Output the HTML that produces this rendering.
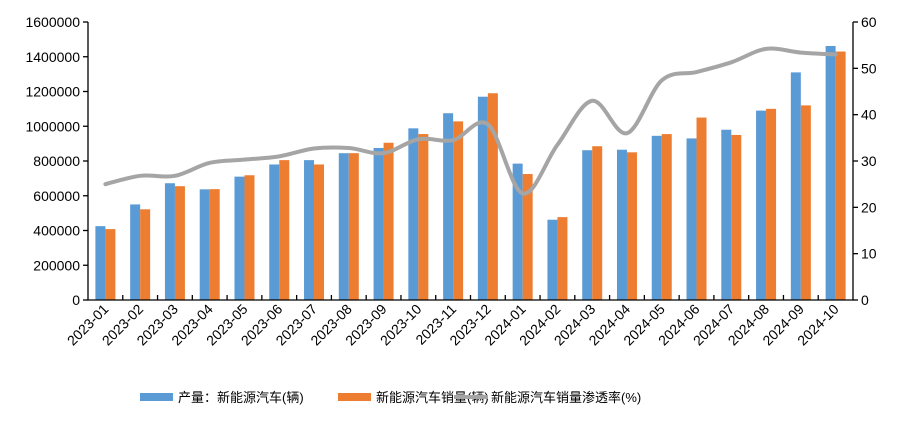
<!DOCTYPE html>
<html><head><meta charset="utf-8"><style>
body{margin:0;background:#fff;width:904px;height:426px;overflow:hidden;font-family:"Liberation Sans","Noto Sans CJK SC",sans-serif;}
svg text{font-family:"Liberation Sans","Noto Sans CJK SC",sans-serif;}
</style></head><body>
<svg id="chart" width="904" height="426" xmlns="http://www.w3.org/2000/svg"></svg>
<script>
const categories=["2023-01","2023-02","2023-03","2023-04","2023-05","2023-06","2023-07","2023-08","2023-09","2023-10","2023-11","2023-12","2024-01","2024-02","2024-03","2024-04","2024-05","2024-06","2024-07","2024-08","2024-09","2024-10"];
const production=[425000,550000,672000,637000,710000,780000,805000,845000,875000,988000,1075000,1170000,785000,462000,862000,865000,945000,930000,980000,1090000,1310000,1462000];
const sales=[408000,522000,655000,638000,718000,805000,780000,845000,905000,955000,1028000,1190000,725000,477000,885000,850000,955000,1050000,950000,1100000,1120000,1430000];
const penetration=[25,26.8,26.8,29.6,30.3,31,32.7,32.8,31.7,34.7,34.5,37.9,23,33.5,43,36,47.4,49.2,51.3,54.2,53.4,53];
const leftTicks=[0,200000,400000,600000,800000,1000000,1200000,1400000,1600000];
const rightTicks=[0,10,20,30,40,50,60];

const svg=document.getElementById('chart');
const NS='http://www.w3.org/2000/svg';
const X0=88,X1=853,Y0=300,Y1=22;
const bw=(X1-X0)/categories.length;
const yL=v=>Y0-(v/1600000)*(Y0-Y1);
const yR=v=>Y0-(v/60)*(Y0-Y1);
const xC=i=>X0+bw*(i+0.5);
function el(t,a){const e=document.createElementNS(NS,t);for(const k in a)e.setAttribute(k,a[k]);svg.appendChild(e);return e;}

// bars
production.forEach((v,i)=>{
  const r=el('rect',{x:xC(i)-10,y:yL(v),width:10,height:Y0-yL(v),fill:'#5b9bd5'});
  
  
});
sales.forEach((v,i)=>{
  const r=el('rect',{x:xC(i),y:yL(v),width:10,height:Y0-yL(v),fill:'#ed7d31'});
  
  
});
// line (catmull-rom)
const pts=penetration.map((v,i)=>[xC(i),yR(v)]);
let d='M'+pts[0][0]+','+pts[0][1];
for(let i=0;i<pts.length-1;i++){
  const p0=pts[i-1]||pts[i],p1=pts[i],p2=pts[i+1],p3=pts[i+2]||p2;
  const c1=[p1[0]+(p2[0]-p0[0])/6,p1[1]+(p2[1]-p0[1])/6];
  const c2=[p2[0]-(p3[0]-p1[0])/6,p2[1]-(p3[1]-p1[1])/6];
  d+=` C${c1[0]},${c1[1]} ${c2[0]},${c2[1]} ${p2[0]},${p2[1]}`;
}
const ln=el('path',{d:d,fill:'none',stroke:'#a5a5a5','stroke-width':4,'stroke-linecap':'round'});



// axes
const ax=el('path',{d:`M${X0},${Y1}V${Y0}H${X1}V${Y1}`,fill:'none',stroke:'#000','stroke-width':1.3});


leftTicks.forEach(t=>{
  const y=yL(t);
  el('line',{x1:X0-5,x2:X0,y1:y,y2:y,stroke:'#000','stroke-width':1.3});
  const tx=el('text',{x:X0-8,y:y+5,'text-anchor':'end','font-size':14,fill:'#000'});
  tx.textContent=t;
  
  
});
rightTicks.forEach(t=>{
  const y=yR(t);
  el('line',{x1:X1,x2:X1+5,y1:y,y2:y,stroke:'#000','stroke-width':1.3});
  const tx=el('text',{x:X1+8,y:y+5,'text-anchor':'start','font-size':14,fill:'#000'});
  tx.textContent=t;
  
  
});
for(let i=1;i<categories.length;i++){
  const x=X0+bw*i;
  el('line',{x1:x,x2:x,y1:Y0,y2:Y0-5,stroke:'#000','stroke-width':1.3});
}
categories.forEach((c,i)=>{
  const x=xC(i)+4,y=Y0+10;
  const tx=el('text',{x:x,y:y,'text-anchor':'end','font-size':14,fill:'#000',transform:`rotate(-45 ${x} ${y})`});
  tx.textContent=c;
  
  
});

// legend
function legend(kind,x,color,label,name){
  if(kind==='rect'){el('rect',{x:x,y:393,width:33,height:8,fill:color});}
  else{el('line',{x1:x,x2:x+34,y1:397,y2:397,stroke:color,'stroke-width':4});}
  const t=el('text',{x:x+(kind==='rect'?38:37),y:402,'font-size':13,fill:'#000'});
  t.textContent=label;
  
  
}
legend('rect',140,'#5b9bd5','产量：新能源汽车(辆)','legend-production');
legend('rect',338,'#ed7d31','新能源汽车销量(辆)','legend-sales');
legend('line',454,'#a5a5a5','新能源汽车销量渗透率(%)','legend-penetration');
</script>
</body></html>
